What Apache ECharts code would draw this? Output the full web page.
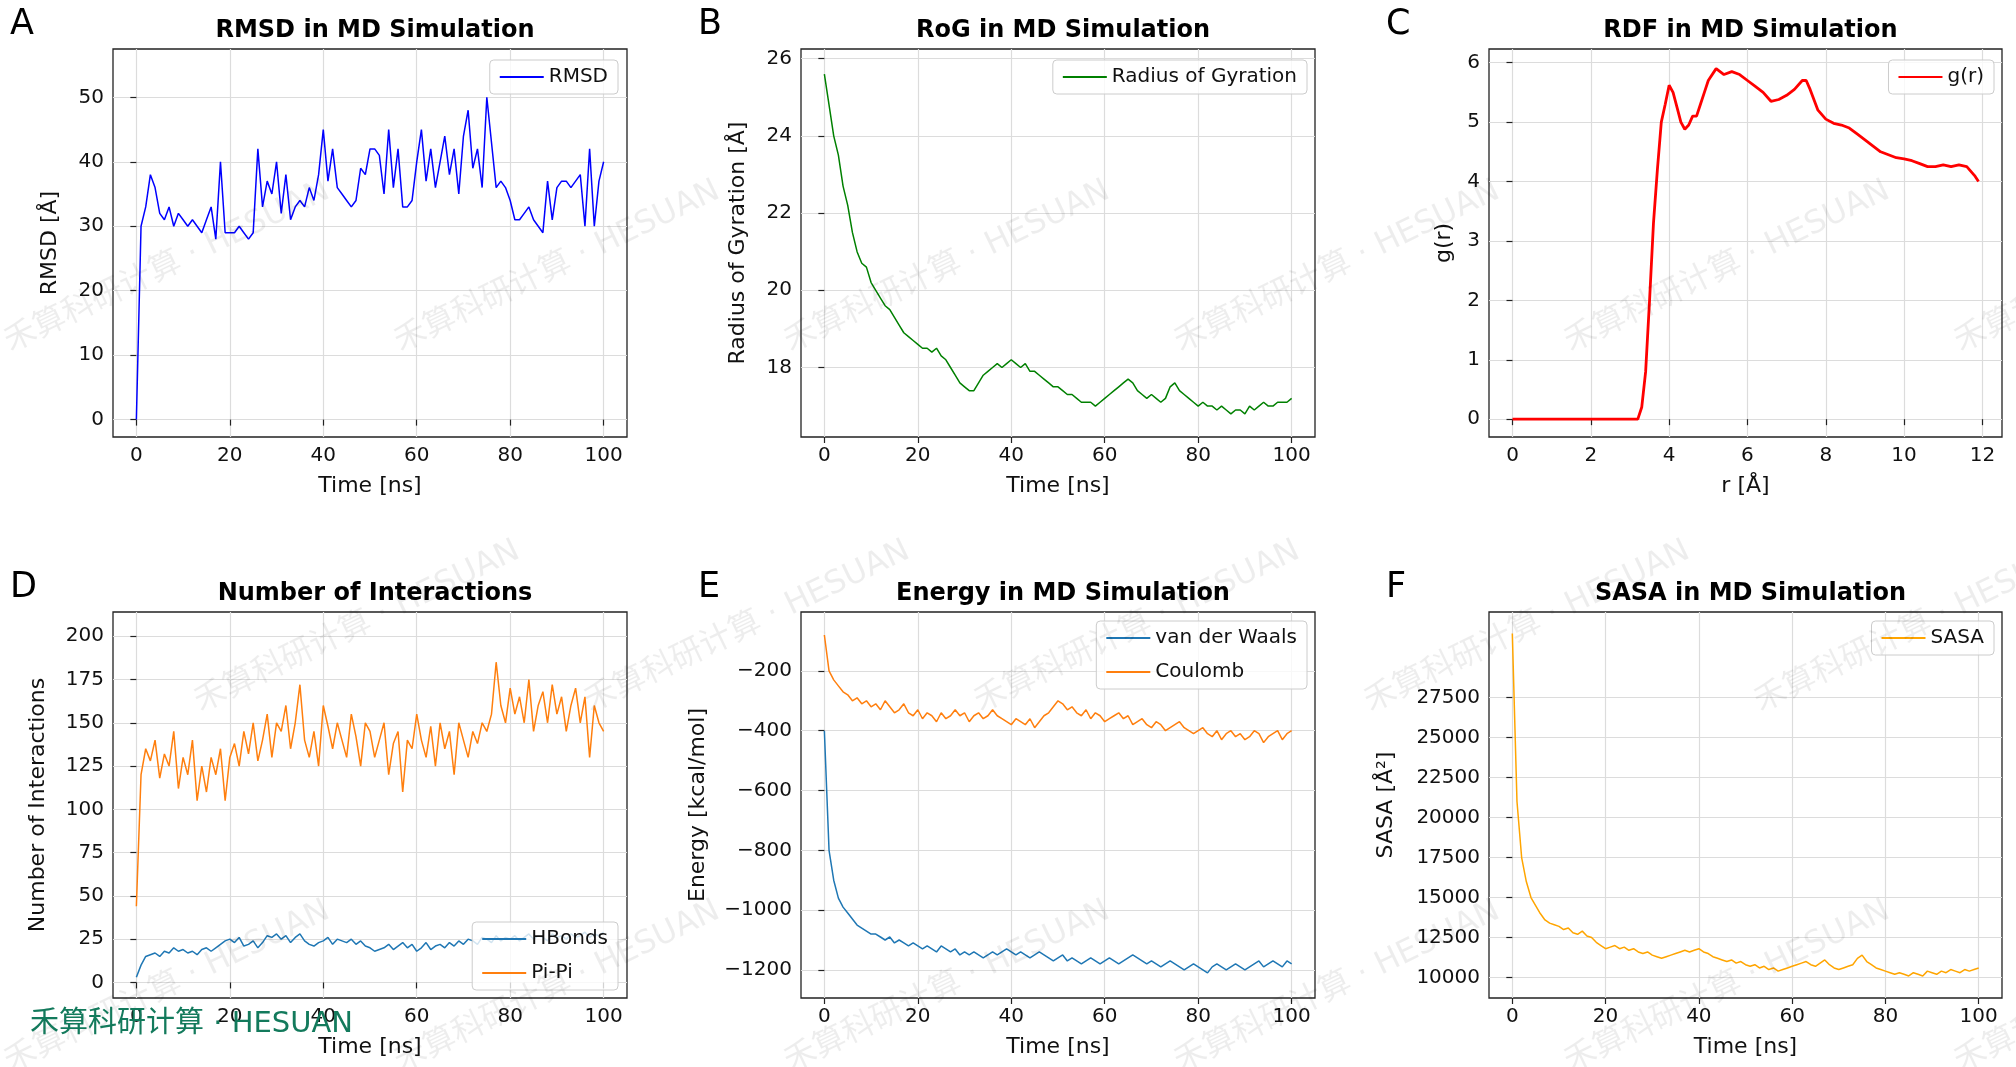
<!DOCTYPE html>
<html>
<head>
<meta charset="utf-8">
<script src="https://cdn.jsdelivr.net/npm/echarts@6/dist/echarts.min.js"></script>
<style>html,body{margin:0;padding:0;background:#fff}#main{width:2016px;height:1067px}</style>
</head>
<body>
<div id="main"></div>
<script>
// 时间轴 (ns)
var time = [0,1,2,3,4,5,6,7,8,9,10,11,12,13,14,15,16,17,18,19,20,21,22,23,24,25,26,27,28,29,30,31,32,33,34,35,36,37,38,39,40,
  41,42,43,44,45,46,47,48,49,50,51,52,53,54,55,56,57,58,59,60,61,62,63,64,65,66,67,68,69,70,71,72,73,74,75,76,77,78,79,80,
  81,82,83,84,85,86,87,88,89,90,91,92,93,94,95,96,97,98,99,100];

var rmsd = [0,30,33,38,36,32,31,33,30,32,31,30,31,30,29,31,33,28,40,29,29,29,30,29,28,29,42,33,37,35,40,32,38,31,33,34,33,36,34,38,
  45,37,42,36,35,34,33,34,39,38,42,42,41,35,45,36,42,33,33,34,40,45,37,42,36,40,44,38,42,35,44,48,39,42,36,50,43,36,37,36,
  34,31,31,32,33,31,30,29,37,31,36,37,37,36,37,38,30,42,30,37,40];

var rog = [25.6,24.8,24.0,23.5,22.7,22.2,21.5,21.0,20.7,20.6,20.2,20.0,19.8,19.6,19.5,19.3,19.1,18.9,18.8,18.7,18.6,18.5,18.5,18.4,18.5,
  18.3,18.2,18.0,17.8,17.6,17.5,17.4,17.4,17.6,17.8,17.9,18.0,18.1,18.0,18.1,18.2,18.1,18.0,18.1,17.9,17.9,17.8,17.7,17.6,17.5,
  17.5,17.4,17.3,17.3,17.2,17.1,17.1,17.1,17.0,17.1,17.2,17.3,17.4,17.5,17.6,17.7,17.6,17.4,17.3,17.2,17.3,17.2,17.1,17.2,17.5,
  17.6,17.4,17.3,17.2,17.1,17.0,17.1,17.0,17.0,16.9,17.0,16.9,16.8,16.9,16.9,16.8,17.0,16.9,17.0,17.1,17.0,17.0,17.1,17.1,17.1,17.2];

var rdfR = [0,0.5,1,1.5,2,2.5,3,3.2,3.3,3.4,3.5,3.6,3.7,3.8,3.9,4.0,4.1,4.2,4.3,4.4,4.5,4.6,4.7,4.8,4.9,5.0,5.2,5.4,5.6,5.8,
  6.0,6.2,6.4,6.6,6.8,7.0,7.2,7.4,7.5,7.6,7.8,8.0,8.2,8.4,8.6,8.8,9.0,9.2,9.4,9.6,9.8,10.0,10.2,10.4,10.6,10.8,11.0,11.2,11.4,11.6,11.8,11.9];
var rdfG = [0,0,0,0,0,0,0,0,0.2,0.8,2.0,3.3,4.2,5.0,5.3,5.62,5.5,5.25,5.0,4.88,4.95,5.1,5.1,5.3,5.5,5.7,5.9,5.8,5.85,5.8,
  5.7,5.6,5.5,5.35,5.38,5.45,5.55,5.7,5.7,5.55,5.2,5.05,4.98,4.95,4.9,4.8,4.7,4.6,4.5,4.45,4.4,4.38,4.35,4.3,4.25,4.25,4.28,4.25,4.28,4.25,4.1,4.0];

var hbonds = [3,10,15,16,17,15,18,17,20,18,19,17,18,16,19,20,18,20,22,24,25,23,26,21,22,24,20,23,27,26,28,25,27,23,26,28,24,22,21,23,
  24,26,22,25,24,23,25,22,24,21,20,18,19,20,22,19,21,23,20,22,18,20,23,19,21,22,20,23,21,24,22,25,24,22,26,25,23,27,24,26,
  25,27,24,26,28,25,27,26,24,28,26,27,25,28,26,27,29,26,28,27,29];
var pipi = [44,120,135,128,140,118,132,125,145,112,130,120,140,105,125,110,130,120,135,105,130,138,125,145,132,150,128,140,155,130,
  150,145,160,135,150,172,140,130,145,125,160,148,135,150,140,130,155,142,125,150,145,130,140,150,120,138,145,110,140,135,
  155,140,130,148,125,150,135,145,120,150,140,130,145,138,150,145,155,185,160,150,170,155,165,150,175,145,160,168,150,172,
  155,165,145,160,170,150,165,130,160,150,145];

var vdw = [-400,-800,-900,-960,-990,-1010,-1030,-1050,-1060,-1070,-1080,-1080,-1090,-1100,-1090,-1110,-1100,-1110,-1120,-1110,
  -1120,-1130,-1120,-1130,-1140,-1120,-1130,-1140,-1130,-1150,-1140,-1150,-1140,-1150,-1160,-1150,-1140,-1150,-1140,-1130,
  -1140,-1150,-1140,-1150,-1160,-1150,-1140,-1150,-1160,-1170,-1160,-1150,-1170,-1160,-1170,-1180,-1170,-1160,-1170,-1180,
  -1170,-1160,-1170,-1180,-1170,-1160,-1150,-1160,-1170,-1180,-1170,-1180,-1190,-1180,-1170,-1180,-1190,-1200,-1190,-1180,
  -1190,-1200,-1210,-1190,-1180,-1190,-1200,-1190,-1180,-1190,-1200,-1190,-1180,-1170,-1190,-1180,-1170,-1180,-1190,-1170,-1180];
var coulomb = [-80,-200,-230,-250,-270,-280,-300,-290,-310,-300,-320,-310,-330,-300,-320,-340,-330,-310,-340,-350,-330,-360,-340,
  -350,-370,-340,-360,-350,-330,-350,-340,-370,-350,-340,-360,-350,-330,-350,-360,-370,-380,-360,-370,-380,-360,-390,-370,
  -350,-340,-320,-300,-310,-330,-320,-340,-350,-330,-360,-340,-350,-370,-360,-350,-340,-360,-350,-380,-370,-360,-380,-390,
  -370,-380,-400,-390,-380,-370,-390,-400,-410,-400,-390,-410,-420,-400,-430,-410,-400,-420,-410,-430,-420,-400,-410,-440,
  -420,-410,-400,-430,-410,-400];

var sasa = [31500,21000,17500,16000,15000,14500,14000,13600,13400,13300,13200,13000,13100,12800,12700,12900,12600,12500,12200,12000,
  11800,11900,12000,11800,11900,11700,11800,11600,11500,11600,11400,11300,11200,11300,11400,11500,11600,11700,11600,11700,
  11800,11600,11500,11300,11200,11100,11000,11100,10900,11000,10800,10700,10800,10600,10700,10500,10600,10400,10500,10600,
  10700,10800,10900,11000,10800,10700,10900,11100,10800,10600,10500,10600,10700,10800,11200,11400,11000,10800,10600,10500,
  10400,10300,10200,10300,10200,10100,10300,10200,10100,10400,10300,10200,10400,10300,10500,10400,10300,10500,10400,10500,10600];

// 刻度
var timeTicks = [0,20,40,60,80,100];
var rmsdTicks = [0,10,20,30,40,50];
var rogTicks = [18,20,22,24,26];
var rdfXTicks = [0,2,4,6,8,10,12];
var rdfYTicks = [0,1,2,3,4,5,6];
var interTicks = [0,25,50,75,100,125,150,175,200];
var energyTicks = [-1200,-1000,-800,-600,-400,-200];
var sasaTicks = [10000,12500,15000,17500,20000,22500,25000,27500];

function pairs(xs, ys) {
    var out = [];
    for (var i = 0; i < xs.length; i++) out.push([xs[i], ys[i]]);
    return out;
}

var FONT = 'DejaVu Sans';
var cols = [[113, 627], [801, 1315], [1489, 2002]];
var rows = [[49, 437], [612, 998]];

var grids = [], xAxes = [], yAxes = [], titles = [];
var panels = [
    {title: 'RMSD in MD Simulation', xr: [-5, 105], yr: [-2.7, 57.5], xt: timeTicks, yt: rmsdTicks, xn: 'Time [ns]', yn: 'RMSD [Å]', yg: 52},
    {title: 'RoG in MD Simulation', xr: [-5, 105], yr: [16.2, 26.25], xt: timeTicks, yt: rogTicks, xn: 'Time [ns]', yn: 'Radius of Gyration [Å]', yg: 52},
    {title: 'RDF in MD Simulation', xr: [-0.6, 12.5], yr: [-0.3, 6.23], xt: rdfXTicks, yt: rdfYTicks, xn: 'r [Å]', yn: 'g(r)', yg: 34},
    {title: 'Number of Interactions', xr: [-5, 105], yr: [-9, 214], xt: timeTicks, yt: interTicks, xn: 'Time [ns]', yn: 'Number of Interactions', yg: 64},
    {title: 'Energy in MD Simulation', xr: [-5, 105], yr: [-1294, -3], xt: timeTicks, yt: energyTicks, xn: 'Time [ns]', yn: 'Energy [kcal/mol]', yg: 92},
    {title: 'SASA in MD Simulation', xr: [-5, 105], yr: [8720, 32850], xt: timeTicks, yt: sasaTicks, xn: 'Time [ns]', yn: 'SASA [Å²]', yg: 92}
];
var letters = ['A', 'B', 'C', 'D', 'E', 'F'];
var graphics = [];

function fmt(v) {
    return String(v).replace('-', '\u2212');
}

panels.forEach(function (p, i) {
    var c = cols[i % 3], r = rows[Math.floor(i / 3)];
    grids.push({left: c[0], width: c[1] - c[0], top: r[0], height: r[1] - r[0],
        show: true, borderColor: '#222', borderWidth: 1.3, backgroundColor: 'transparent'});
    var axisCommon = {
        axisLine: {show: false},
        axisTick: {show: true, length: 6, inside: false, lineStyle: {color: '#222', width: 1.2}},
        axisLabel: {fontFamily: FONT, fontSize: 20, color: '#111', margin: 9, formatter: fmt},
        splitLine: {show: true, lineStyle: {color: '#dcdcdc', width: 1.2}},
        nameTextStyle: {fontFamily: FONT, fontSize: 22, color: '#111'},
        nameLocation: 'middle'
    };
    var xa = Object.assign({}, axisCommon, {type: 'value', gridIndex: i, min: p.xr[0], max: p.xr[1],
        name: p.xn, nameGap: 38});
    xa.axisLabel = Object.assign({}, axisCommon.axisLabel, {customValues: p.xt});
    xa.axisTick = Object.assign({}, axisCommon.axisTick, {customValues: p.xt});
    var ya = Object.assign({}, axisCommon, {type: 'value', gridIndex: i, min: p.yr[0], max: p.yr[1],
        name: p.yn, nameGap: p.yg});
    ya.axisLabel = Object.assign({}, axisCommon.axisLabel, {customValues: p.yt});
    ya.axisTick = Object.assign({}, axisCommon.axisTick, {customValues: p.yt});
    xAxes.push(xa);
    yAxes.push(ya);
    titles.push({text: p.title, left: (c[0] + c[1]) / 2, top: r[0] - 35, textAlign: 'center',
        textStyle: {fontFamily: FONT, fontSize: 24, fontWeight: 'bold', color: '#000'}});
    graphics.push({type: 'text', left: c[0] - 103, top: r[0] - 42,
        style: {text: letters[i], font: '35px "DejaVu Sans"', fill: '#000'}});
});

// 水印
var wm = '禾算科研计算 · HESUAN';
var wmFont = '"DejaVu Sans", "Noto Sans CJK SC"';
var wmPos = [[0, 330], [390, 330], [780, 330], [1170, 330], [1560, 330], [1950, 330],
    [190, 690], [580, 690], [970, 690], [1360, 690], [1750, 690],
    [0, 1050], [390, 1050], [780, 1050], [1170, 1050], [1560, 1050], [1950, 1050]];
wmPos.forEach(function (q) {
    graphics.push({type: 'text', x: q[0], y: q[1], rotation: 0.45, z: 100, silent: true,
        style: {text: wm, font: '32px ' + wmFont, fill: 'rgba(0,0,0,0.07)'}});
});
graphics.push({type: 'text', left: 30, top: 1010, z: 101,
    style: {text: wm, font: '29px ' + wmFont, fill: '#137a5c'}});

function line(name, xi, xs, ys, color, w) {
    return {type: 'line', name: name, xAxisIndex: xi, yAxisIndex: xi, data: pairs(xs, ys),
        showSymbol: false, symbol: 'none', lineStyle: {color: color, width: w}, itemStyle: {color: color}, animation: false};
}

function legendAt(names, right, top) {
    return {data: names, right: right, top: top, orient: 'vertical',
        itemWidth: 44, itemHeight: 2, itemGap: 14, icon: 'rect',
        textStyle: {fontFamily: FONT, fontSize: 20, color: '#111'},
        borderColor: '#ccc', borderWidth: 1, borderRadius: 4, padding: [7, 10, 7, 10],
        backgroundColor: 'rgba(255,255,255,0.8)'};
}

var option = {
    backgroundColor: '#fff',
    animation: false,
    title: titles,
    grid: grids,
    xAxis: xAxes,
    yAxis: yAxes,
    graphic: graphics,
    legend: [
        legendAt(['RMSD'], 1398, 60),
        legendAt(['Radius of Gyration'], 709, 60),
        legendAt(['g(r)'], 22, 60),
        legendAt(['HBonds', 'Pi-Pi'], 1398, 922),
        legendAt(['van der Waals', 'Coulomb'], 709, 621),
        legendAt(['SASA'], 22, 621)
    ],
    series: [
        line('RMSD', 0, time, rmsd, '#0000ff', 1.5),
        line('Radius of Gyration', 1, time, rog, '#008000', 1.5),
        line('g(r)', 2, rdfR, rdfG, '#ff0000', 2.8),
        line('HBonds', 3, time, hbonds, '#1f77b4', 1.5),
        line('Pi-Pi', 3, time, pipi, '#ff7f0e', 1.5),
        line('van der Waals', 4, time, vdw, '#1f77b4', 1.5),
        line('Coulomb', 4, time, coulomb, '#ff7f0e', 1.5),
        line('SASA', 5, time, sasa, '#ffa500', 1.5)
    ]
};

var chart = echarts.init(document.getElementById('main'));
chart.setOption(option);
</script>
</body>
</html>
